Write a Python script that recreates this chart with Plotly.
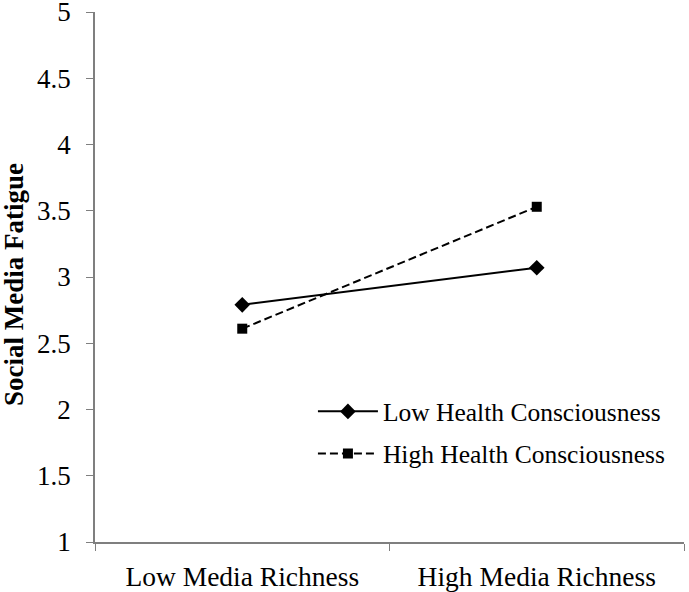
import plotly.graph_objects as go

# data
categories = ["Low Media Richness", "High Media Richness"]
low_hc = [2.79, 3.07]
high_hc = [2.61, 3.53]
y_ticks = [1, 1.5, 2, 2.5, 3, 3.5, 4, 4.5, 5]
y_labels = ["1", "1.5", "2", "2.5", "3", "3.5", "4", "4.5", "5"]

font_family = "Liberation Serif, Times New Roman, serif"

fig = go.Figure()

fig.add_trace(go.Scatter(
    x=categories, y=low_hc,
    mode="lines+markers",
    name="Low Health Consciousness",
    legendgroup="low",
    line=dict(color="black", width=2),
    marker=dict(symbol="diamond", size=12, color="black"),
))

fig.add_trace(go.Scatter(
    x=categories, y=high_hc,
    mode="lines+markers",
    name="High Health Consciousness",
    legendgroup="high",
    line=dict(color="black", width=2, dash="8px,4px"),
    marker=dict(symbol="square", size=10, color="black"),
))

fig.update_layout(
    width=689, height=592,
    margin=dict(l=95, r=5, t=12, b=50),
    plot_bgcolor="white",
    paper_bgcolor="white",
    font=dict(family=font_family, size=28, color="black"),
    showlegend=True,
    legend=dict(
        x=0.37, y=0.29, xanchor="left", yanchor="top",
        bgcolor="rgba(0,0,0,0)",
        font=dict(size=25.5),
        itemwidth=60,
        tracegroupgap=6,
    ),
)

# y axis title as an annotation so it sits where the original has it
fig.add_annotation(
    text="<b>Social Media Fatigue</b>",
    xref="paper", yref="paper",
    x=-0.1375, y=0.485,
    xanchor="center", yanchor="middle",
    textangle=-90, showarrow=False,
    font=dict(size=27),
)

fig.update_xaxes(
    type="category",
    range=[-0.5, 1.5],
    automargin=False,
    showline=True, linecolor="#7f7f7f", linewidth=1.5,
    ticks="outside", ticklen=7, tickcolor="#7f7f7f",
    tickson="boundaries",
    ticklabelstandoff=9,
    showgrid=False, zeroline=False,
    tickfont=dict(size=27.5),
)

fig.update_yaxes(
    range=[1, 5],
    automargin=False,
    tickvals=y_ticks, ticktext=y_labels,
    showline=True, linecolor="#7f7f7f", linewidth=1.5,
    ticks="outside", ticklen=7, tickcolor="#7f7f7f",
    ticklabelstandoff=10,
    ticklabeloverflow="allow",
    showgrid=False, zeroline=False,
    tickfont=dict(size=27),
)

# drop the default page margin so the chart sits at the top-left corner
fig.write_html(
    "out.html",
    config={"displayModeBar": False},
    post_script="document.body.style.margin='0';",
)
